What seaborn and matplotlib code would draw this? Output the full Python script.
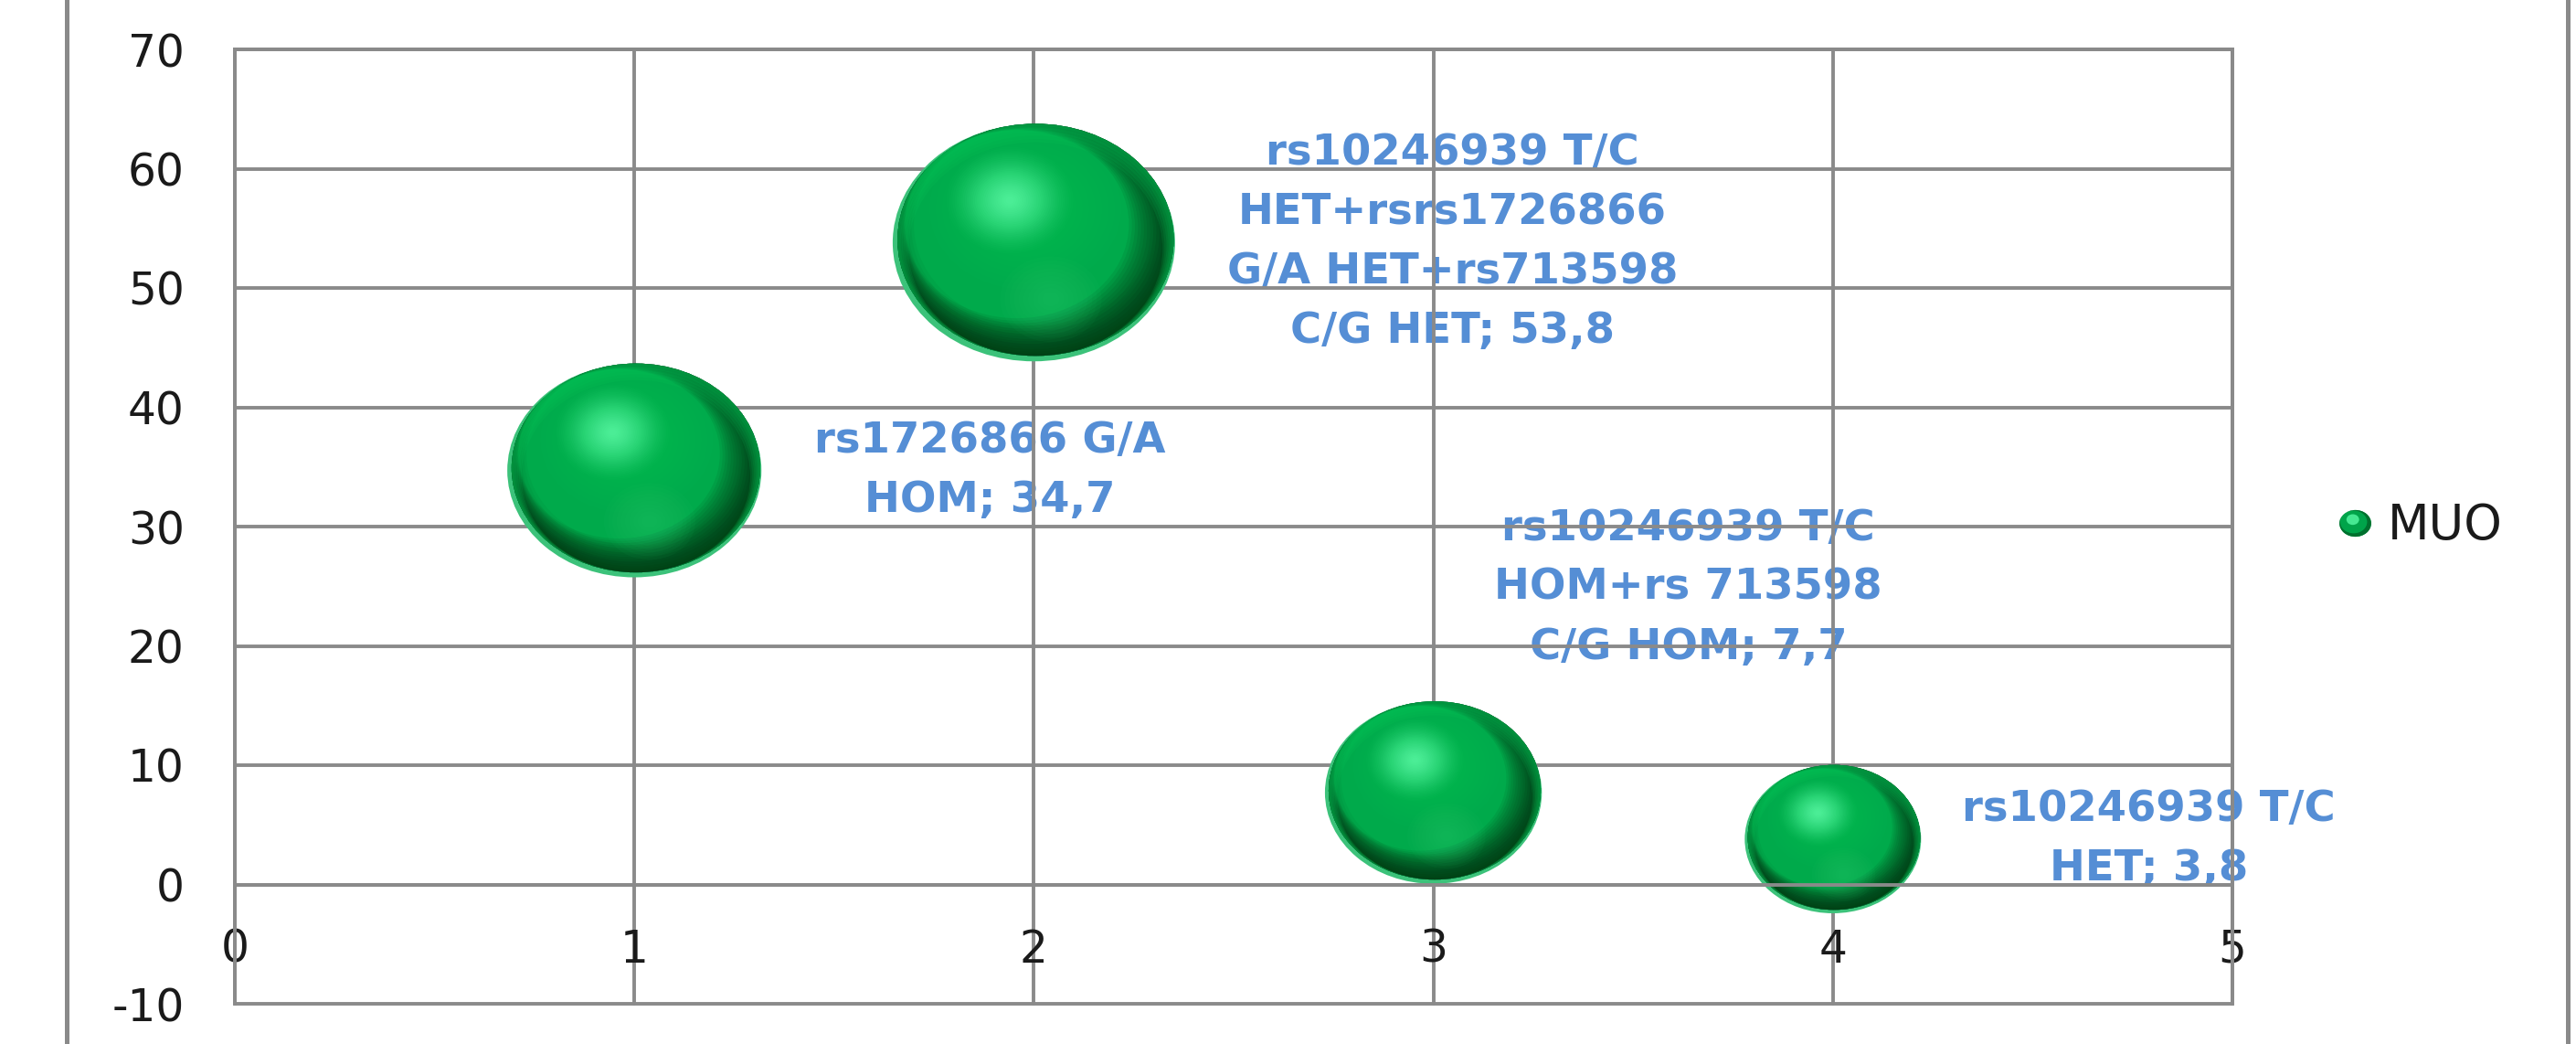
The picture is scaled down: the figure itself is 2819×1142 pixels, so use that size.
import numpy as np
import pandas as pd
import matplotlib
matplotlib.use("Agg")
import matplotlib.pyplot as plt
import seaborn as sns
from matplotlib.path import Path
from matplotlib.markers import MarkerStyle
from matplotlib.transforms import Affine2D
from matplotlib.lines import Line2D
from matplotlib.legend_handler import HandlerTuple
from matplotlib.patches import Rectangle

# ---- data -------------------------------------------------------------
genotypes = [
    "rs1726866 G/A\nHOM",
    "rs10246939 T/C\nHET+rsrs1726866\nG/A HET+rs713598\nC/G HET",
    "rs10246939 T/C\nHOM+rs 713598\nC/G HOM",
    "rs10246939 T/C\nHET",
]
x_pos = [1, 2, 3, 4]
muo_pct = [34.7, 53.8, 7.7, 3.8]
bubble_scale = [8.1, 10.0, 5.9, 3.9]
series_name = "MUO"
x_ticks = [0, 1, 2, 3, 4, 5]
y_ticks = [-10, 0, 10, 20, 30, 40, 50, 60, 70]

# label offsets from each bubble centre, in points
label_offsets = [(280, 0), (330, 0), (201, 161), (249, 0)]

df = pd.DataFrame({"genotype": genotypes, "x": x_pos,
                   "muo": muo_pct, "scale": bubble_scale})
df["label"] = [f"{g}; {v:.1f}".replace(".", ",")
               for g, v in zip(df["genotype"], df["muo"])]

# ---- style ------------------------------------------------------------
sns.set_style("white")
plt.rcParams["font.family"] = ["DejaVu Sans"]
GRID = "#8a8a8a"
LABEL_BLUE = "#558ed5"
TICK_TXT = "#1a1a1a"
GRID_LW = 2.8

fig = plt.figure(figsize=(28.19, 11.42), dpi=100)
ax = fig.add_axes([257 / 2819, 1 - 1098 / 1142,
                   (2443 - 257) / 2819, (1098 - 54) / 1142])

ASPECT = 1.19
ellipse = Path.unit_circle().transformed(Affine2D().scale(1.0, 1.0 / ASPECT))
S_MAX = (309 * 0.72) ** 2


def crescent(g, theta):
    """Ellipse with an inner, internally tangent ellipse cut out."""
    ox = (1 - g) * np.cos(theta)
    oy = (1 - g) * np.sin(theta) / ASPECT
    inner = Path.unit_circle().transformed(
        Affine2D().scale(-g, g / ASPECT).translate(ox, oy))
    return Path.make_compound_path(ellipse, inner)


def layer(shape, f, dx, dy, color, alpha=1.0):
    ms = MarkerStyle(shape, transform=Affine2D().scale(f).translate(dx, dy))
    sns.scatterplot(data=df, x="x", y="muo", size="scale",
                    sizes=(0, S_MAX), size_norm=(0, 10),
                    marker=ms, color=color, edgecolor="none", linewidth=0,
                    alpha=alpha, legend=False, ax=ax, zorder=2)


# rim reflection, then the green body
layer(ellipse, 1.0, 0.0, 0.0, "#3cc27a")
f_body, bx, by = 0.978, 0.006, 0.01
layer(ellipse, f_body, bx, by, "#00aa4b")

# shadow, heaviest on the right and lower-right side
theta = np.deg2rad(135)
for g in np.linspace(0.99, 0.81, 15):
    layer(crescent(g, theta), f_body, bx, by, "#002c10", alpha=0.085)

# gentle darkening along the bottom
theta_b = np.deg2rad(95)
for g in np.linspace(0.99, 0.87, 7):
    layer(crescent(g, theta_b), f_body, bx, by, "#003a16", alpha=0.05)

# bright band along the top edge
for g in np.linspace(0.99, 0.92, 6):
    layer(crescent(g, np.deg2rad(-90)), f_body, bx, by, "#08c85a", alpha=0.14)

# brighter upper half
for f in np.linspace(0.68, 0.36, 8):
    layer(ellipse, f, -0.03, 0.12, "#18d265", alpha=0.04)

# soft secondary glow in the lower half
for f in np.linspace(0.36, 0.06, 10):
    layer(ellipse, f, 0.06, -0.2, "#3ad07f", alpha=0.04)

# specular highlight
n_hi = 30
for f, a in zip(np.linspace(0.45, 0.03, n_hi), np.linspace(0.015, 0.12, n_hi)):
    layer(ellipse, f, -0.085, 0.15, "#5cfba6", alpha=a)

# ---- labels -----------------------------------------------------------
for i, row in df.iterrows():
    ax.annotate(row["label"], xy=(row["x"], row["muo"]),
                xytext=label_offsets[i], textcoords="offset points",
                ha="center", va="center", multialignment="center",
                fontsize=33.5, fontweight="bold", color=LABEL_BLUE,
                linespacing=1.57, zorder=0.3)

# ---- axes -------------------------------------------------------------
ax.set_xlim(0, 5)
ax.set_ylim(-10, 70)
ax.set_xticks(x_ticks)
ax.set_yticks(y_ticks)
ax.set_xticklabels([str(v) for v in x_ticks])
ax.set_yticklabels([str(v) for v in y_ticks])
ax.set_xlabel("")
ax.set_ylabel("")
ax.set_axisbelow(True)
ax.grid(True, color=GRID, linewidth=GRID_LW)
for sp in ["left", "right", "top"]:
    ax.spines[sp].set_color(GRID)
    ax.spines[sp].set_linewidth(GRID_LW)
ax.spines["bottom"].set_position(("data", 0))
ax.spines["bottom"].set_color(GRID)
ax.spines["bottom"].set_linewidth(GRID_LW)
ax.tick_params(axis="y", length=13.7, width=GRID_LW, color=GRID,
               pad=26, labelsize=35, labelcolor=TICK_TXT)
ax.tick_params(axis="x", length=0, pad=34, labelsize=35, labelcolor=TICK_TXT)
for gl in ax.get_ygridlines() + ax.get_xgridlines():
    gl.set_clip_on(False)

# ---- legend -----------------------------------------------------------
h_base = Line2D([], [], linestyle="none", marker=MarkerStyle(ellipse),
                markersize=25, markerfacecolor="#00a44a", markeredgecolor="none")
h_shade = Line2D([], [], linestyle="none",
                 marker=MarkerStyle(crescent(0.85, theta)),
                 markersize=25, markerfacecolor="#00702e", markeredgecolor="none")
h_hi = Line2D([], [], linestyle="none",
              marker=MarkerStyle(ellipse, transform=Affine2D().scale(0.4).translate(-0.08, 0.12)),
              markersize=25, markerfacecolor="#45e892", markeredgecolor="none")
ax.legend(handles=[(h_base, h_shade, h_hi)], labels=[series_name],
          handler_map={tuple: HandlerTuple(ndivide=1, pad=0)},
          loc="center left", bbox_to_anchor=(2551 / 2819, 1 - 575 / 1142),
          bbox_transform=fig.transFigure, frameon=False, fontsize=38,
          labelcolor=TICK_TXT, borderpad=0, borderaxespad=0,
          handlelength=1.0, handletextpad=0.18)

# outer chart frame
fig.add_artist(Rectangle((73 / 2819, -0.05), (2810 - 73) / 2819, 1.1,
                         transform=fig.transFigure, fill=False,
                         edgecolor=GRID, linewidth=3.6))

fig.savefig("out.png", dpi=100)
